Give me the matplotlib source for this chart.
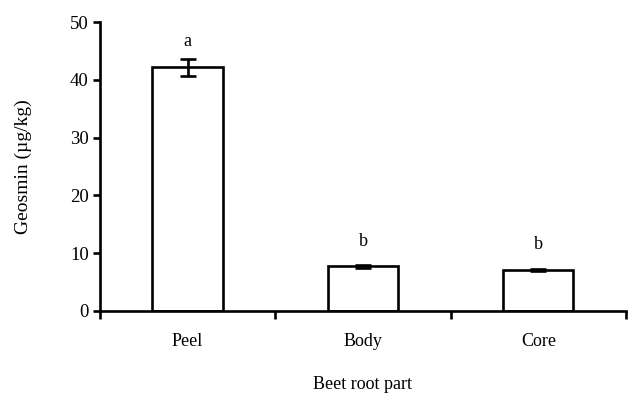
import matplotlib
matplotlib.use("Agg")
import matplotlib.pyplot as plt
import numpy as np

categories = ["Peel", "Body", "Core"]
values = [42.2, 7.7, 7.1]
errors = [1.5, 0.3, 0.2]
letters = ["a", "b", "b"]
yticks = [0, 10, 20, 30, 40, 50]

plt.rcParams['font.family'] = ['Liberation Serif', 'DejaVu Serif']

fig = plt.figure(figsize=(6.28, 3.96), dpi=100)
ax = fig.add_axes([0.159, 0.215, 0.838, 0.729])

x = np.arange(len(categories)) + 0.5
ax.bar(x, values, width=0.4, color='white', edgecolor='black', linewidth=1.9, zorder=2)
ax.errorbar(x, values, yerr=errors, fmt='none', ecolor='black', elinewidth=1.9,
            capsize=6, capthick=1.9, zorder=3)
for xi, v, l in zip(x, values, letters):
    ax.text(xi, v + 3.6, l, ha='center', va='baseline', fontsize=13)

ax.set_xlim(0, len(categories))
ax.set_ylim(0, 50)
ax.set_yticks(yticks)
ax.set_yticklabels([str(t) for t in yticks], fontsize=13.5)
ax.set_xticks(np.arange(len(categories) + 1))
ax.set_xticklabels([])
ax.set_xticks(x, minor=True)
ax.set_xticklabels(categories, minor=True, fontsize=13)
ax.tick_params(axis='x', which='major', direction='out', length=6, width=1.9)
ax.tick_params(axis='x', which='minor', length=0, pad=16)
ax.tick_params(axis='y', direction='out', length=5, width=1.9, pad=3)

for s in ['top', 'right']:
    ax.spines[s].set_visible(False)
for s in ['left', 'bottom']:
    ax.spines[s].set_linewidth(1.9)

ax.set_ylabel("Geosmin (µg/kg)", fontsize=14, labelpad=27)
ax.set_xlabel("Beet root part", fontsize=13, labelpad=19)

fig.savefig("out.png", dpi=100)
